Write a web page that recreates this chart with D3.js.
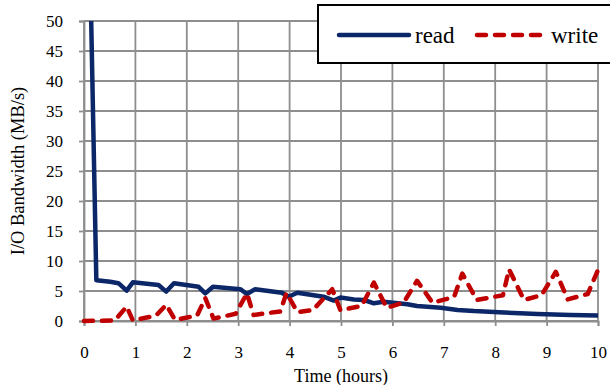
<!DOCTYPE html>
<html>
<head>
<meta charset="utf-8">
<script src="https://cdn.jsdelivr.net/npm/d3@7"></script>
<style>
  html, body { margin: 0; padding: 0; background: #fff; }
  svg { display: block; }
  text { font-family: "Liberation Serif", "Times New Roman", serif; fill: #000; }
</style>
</head>
<body>
<svg id="chart" width="610" height="385"></svg>
<script>
// Time in hours for each sample of the read series
const readTime = [0.14, 0.24, 0.51, 0.67, 0.83, 0.95, 1.45, 1.6, 1.75, 2.23, 2.36, 2.51,
  3.04, 3.17, 3.33, 3.85, 3.98, 4.15, 4.66, 4.86, 4.99, 5.25, 5.45, 5.64, 5.83,
  6.29, 6.48, 6.94, 7.27, 7.59, 8.17, 8.82, 9.47, 10];
// Read bandwidth (MB/s)
const readVal = [50, 6.8, 6.55, 6.3, 5.05, 6.45, 6.0, 4.9, 6.3, 5.7, 4.6, 5.7,
  5.3, 4.5, 5.3, 4.7, 4.05, 4.7, 4.05, 3.4, 3.9, 3.6, 3.5, 2.95, 3.2,
  2.8, 2.5, 2.2, 1.85, 1.65, 1.4, 1.15, 1.0, 0.9];

// Time in hours for each sample of the write series
const writeTime = [0, 0.6, 0.83, 0.95, 1.4, 1.6, 1.77, 2.2, 2.36, 2.52, 2.95, 3.17,
  3.3, 3.82, 3.94, 4.15, 4.45, 4.83, 4.99, 5.4, 5.64, 5.89, 6.22, 6.48, 6.78,
  7.2, 7.36, 7.64, 8.15, 8.27, 8.56, 8.9, 9.18, 9.41, 9.8, 10];
// Write bandwidth (MB/s)
const writeVal = [0, 0.1, 2.4, 0.1, 0.9, 2.7, 0.2, 0.9, 3.8, 0.4, 1.2, 4.6,
  1.0, 1.6, 4.7, 1.5, 1.8, 5.3, 1.8, 2.5, 6.4, 2.2, 3.1, 6.7, 3.05,
  4.0, 7.9, 3.5, 4.3, 8.6, 3.5, 4.3, 8.2, 3.6, 4.5, 8.5];

const xTicks = [0, 1, 2, 3, 4, 5, 6, 7, 8, 9, 10];
const yTicks = [0, 5, 10, 15, 20, 25, 30, 35, 40, 45, 50];
const seriesNames = ["read", "write"];

const READ_COLOR = "#0c2768";
const WRITE_COLOR = "#c00000";
const GRID_COLOR = "#8e8e8e";

const svg = d3.select("#chart");
const plotLeft = 84, plotRight = 598, plotTop = 21, plotBottom = 321;

const x = d3.scaleLinear().domain([0, 10]).range([plotLeft, plotRight]);
const y = d3.scaleLinear().domain([0, 50]).range([plotBottom, plotTop]);

// Grid lines
const grid = svg.append("g");
grid.selectAll("line.h").data(yTicks).join("line")
  .attr("class", "h")
  .attr("x1", plotLeft).attr("x2", plotRight)
  .attr("y1", d => y(d)).attr("y2", d => y(d))
  .attr("stroke", GRID_COLOR).attr("stroke-width", 1.8);
grid.selectAll("line.v").data(xTicks).join("line")
  .attr("class", "v")
  .attr("x1", d => x(d)).attr("x2", d => x(d))
  .attr("y1", plotTop).attr("y2", plotBottom)
  .attr("stroke", GRID_COLOR).attr("stroke-width", 1.8);

// Axes
const yAxis = svg.append("g")
  .attr("transform", `translate(${plotLeft},0)`)
  .call(d3.axisLeft(y).tickValues(yTicks).tickSize(5).tickPadding(16));
const xAxis = svg.append("g")
  .attr("transform", `translate(0,${plotBottom})`)
  .call(d3.axisBottom(x).tickValues(xTicks).tickSize(5).tickPadding(20));
[yAxis, xAxis].forEach(a => {
  a.select(".domain").attr("stroke", GRID_COLOR).attr("stroke-width", 1.8);
  a.selectAll(".tick line").attr("stroke", GRID_COLOR).attr("stroke-width", 1.8);
  a.selectAll(".tick text")
    .style("font-family", '"Liberation Serif", "Times New Roman", serif')
    .style("font-size", "17px").attr("fill", "#000");
});
yAxis.selectAll(".tick text").attr("dy", "0.34em");

// Axis titles
svg.append("text")
  .attr("x", (plotLeft + plotRight) / 2).attr("y", 382)
  .attr("text-anchor", "middle").style("font-size", "18px")
  .text("Time (hours)");
svg.append("text")
  .attr("transform", `translate(24,${(plotTop + plotBottom) / 2}) rotate(-90)`)
  .attr("text-anchor", "middle").style("font-size", "18.5px")
  .text("I/O Bandwidth (MB/s)");

// Series lines, clipped to the plot area
svg.append("clipPath").attr("id", "plotClip")
  .append("rect").attr("x", plotLeft - 5).attr("y", plotTop)
  .attr("width", plotRight - plotLeft + 10).attr("height", plotBottom - plotTop + 5);

const line = d3.line().x(d => x(d[0])).y(d => y(d[1]));
const readData = readTime.map((t, i) => [t, readVal[i]]);
const writeData = writeTime.map((t, i) => [t, writeVal[i]]);

const plot = svg.append("g").attr("clip-path", "url(#plotClip)");
plot.append("path").datum(readData)
  .attr("d", line).attr("fill", "none")
  .attr("stroke", READ_COLOR).attr("stroke-width", 4.5)
  .attr("stroke-linejoin", "round");
plot.append("path").datum(writeData)
  .attr("d", line).attr("fill", "none")
  .attr("stroke", WRITE_COLOR).attr("stroke-width", 4.5)
  .attr("stroke-linejoin", "round").attr("stroke-linecap", "round")
  .attr("stroke-dasharray", "9,9");

// Legend
const legend = svg.append("g");
legend.append("rect")
  .attr("x", 318).attr("y", 5).attr("width", 300).attr("height", 58)
  .attr("fill", "#fff").attr("stroke", "#000").attr("stroke-width", 2);
const legendItems = [
  { name: seriesNames[0], x1: 339, x2: 409, tx: 415, color: READ_COLOR, dash: null },
  { name: seriesNames[1], x1: 477, x2: 541, tx: 551, color: WRITE_COLOR, dash: "9,9" }
];
legendItems.forEach(it => {
  legend.append("line")
    .attr("x1", it.x1).attr("x2", it.x2).attr("y1", 35).attr("y2", 35)
    .attr("stroke", it.color).attr("stroke-width", 4.5)
    .attr("stroke-linecap", "round")
    .attr("stroke-dasharray", it.dash);
  legend.append("text")
    .attr("x", it.tx).attr("y", 43)
    .style("font-size", "23px")
    .text(it.name);
});
</script>
</body>
</html>
